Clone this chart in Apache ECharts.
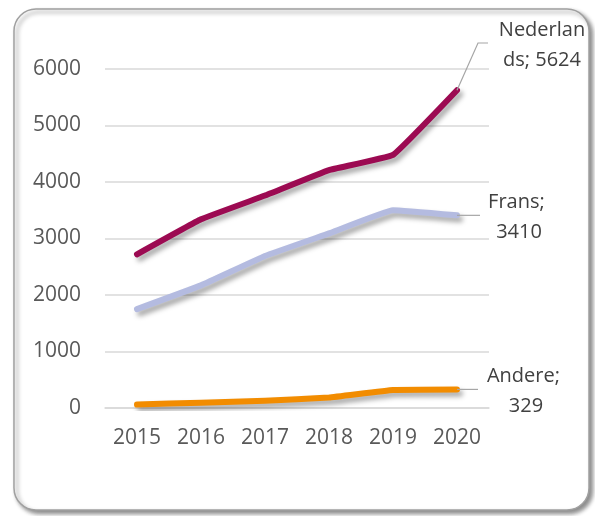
<!DOCTYPE html>
<html>
<head>
<meta charset="utf-8">
<script src="https://cdn.jsdelivr.net/npm/echarts@6/dist/echarts.min.js"></script>
<style>html,body{margin:0;padding:0;background:#fff;}#c{width:595px;height:516px;}</style>
</head>
<body>
<div id="c"></div>
<script>
const categories = ['2015','2016','2017','2018','2019','2020'];
const nederlands = [2720, 3340, 3760, 4210, 4480, 5624];
const frans = [1750, 2170, 2690, 3090, 3500, 3410];
const andere = [60, 95, 130, 185, 320, 329];
const yTicks = [0, 1000, 2000, 3000, 4000, 5000, 6000];

const FONT = '"Open Sans", "Liberation Sans", sans-serif';
const chart = echarts.init(document.getElementById('c'), null, {renderer: 'canvas'});

function lastLabel(values, overflow) {
  const last = values.length - 1;
  return values.map((v, i) => i === last ? {
    value: v,
    label: {
      show: true,
      formatter: p => p.seriesName + '; ' + p.value,
      width: 94,
      overflow: overflow,
      align: 'center',
      fontFamily: FONT,
      fontSize: 20,
      lineHeight: 30,
      color: '#404040'
    }
  } : v);
}

function mkSeries(name, values, color, overflow, labelPos) {
  return {
    name: name,
    type: 'line',
    data: lastLabel(values, overflow),
    symbol: 'circle',
    symbolSize: 0,
    showSymbol: true,
    smooth: 0.08,
    lineStyle: {
      width: 6,
      color: color,
      cap: 'round',
      join: 'round',
      shadowColor: 'rgba(0,0,0,0.35)',
      shadowBlur: 5,
      shadowOffsetX: 3,
      shadowOffsetY: 4
    },
    itemStyle: {color: color},
    labelLayout: function () { return {x: labelPos[0], y: labelPos[1], align: 'center', verticalAlign: 'middle'}; },
    z: 3
  };
}

const option = {
  animation: false,
  backgroundColor: '#fff',
  grid: {left: 105, right: 106, top: 69, bottom: 108, containLabel: false},
  xAxis: {
    type: 'category',
    data: categories,
    boundaryGap: true,
    axisLine: {show: true, lineStyle: {color: '#d9d9d9', width: 1.5}},
    axisTick: {show: false},
    axisLabel: {color: '#595959', fontFamily: FONT, fontSize: 21, margin: 20}
  },
  yAxis: {
    type: 'value',
    min: yTicks[0],
    max: yTicks[yTicks.length - 1],
    interval: 1000,
    axisLine: {show: false},
    axisTick: {show: false},
    splitLine: {lineStyle: {color: '#d9d9d9', width: 1.5}},
    axisLabel: {color: '#595959', fontFamily: FONT, fontSize: 21, margin: 24, formatter: v => String(v)}
  },
  series: [
    mkSeries('Nederlands', nederlands, '#9C0A52', 'breakAll', [542, 45]),
    mkSeries('Frans', frans, '#B4BBE0', 'break', [519, 217]),
    mkSeries('Andere', andere, '#F28C00', 'break', [526, 391])
  ]
};
chart.setOption(option);

// frame + leader lines
const last = categories.length - 1;
const pN = chart.convertToPixel({seriesIndex: 0}, [last, nederlands[last]]);
const pF = chart.convertToPixel({seriesIndex: 1}, [last, frans[last]]);
const pA = chart.convertToPixel({seriesIndex: 2}, [last, andere[last]]);
const lead = {stroke: '#a6a6a6', lineWidth: 1.2, fill: null};
chart.setOption({
  graphic: [
    {
      type: 'rect', z: -10, silent: true,
      shape: {x: 14, y: 9, width: 575, height: 501, r: 22},
      style: {fill: '#fff', stroke: '#a0a0a0', lineWidth: 1.5,
        shadowColor: 'rgba(0,0,0,0.45)', shadowBlur: 4, shadowOffsetX: 3, shadowOffsetY: 3}
    },
    {type: 'polyline', z: 10, silent: true, shape: {points: [[pN[0], pN[1]], [478, 43], [488, 43]]}, style: lead},
    {type: 'polyline', z: 10, silent: true, shape: {points: [[pF[0], pF[1]], [480, pF[1]]]}, style: lead},
    {type: 'polyline', z: 10, silent: true, shape: {points: [[pA[0], pA[1]], [478, pA[1]]]}, style: lead}
  ]
});
</script>
</body>
</html>
